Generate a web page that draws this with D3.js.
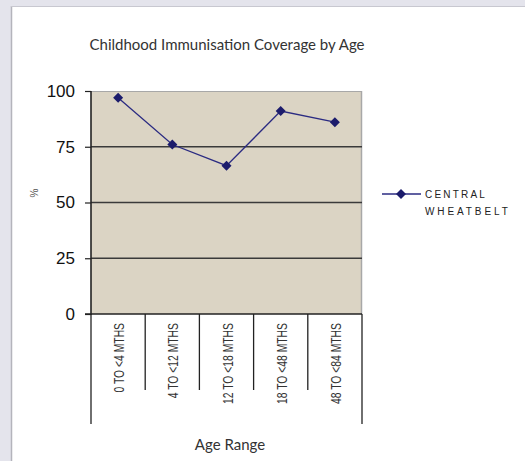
<!DOCTYPE html>
<html><head><meta charset="utf-8">
<script src="https://cdn.jsdelivr.net/npm/d3@7"></script>
<style>
html,body{margin:0;padding:0;background:#e4e4ec;}
svg{display:block;}
</style></head>
<body>
<svg id="chart" width="525" height="461"></svg>
<script>
const categories = ["0 TO <4 MTHS","4 TO <12 MTHS","12 TO <18 MTHS","18 TO <48 MTHS","48 TO <84 MTHS"];
const seriesName = "CENTRAL WHEATBELT";
const values = [97, 76, 66.5, 91, 86];
const yTicks = [0, 25, 50, 75, 100];
const title = "Childhood Immunisation Coverage by Age";
const xTitle = "Age Range";
const yTitle = "%";

const svg = d3.select("#chart");
// page panel
svg.append("rect").attr("x",11).attr("y",6).attr("width",514).attr("height",455).attr("fill","#fff");
svg.append("line").attr("x1",11.5).attr("x2",11.5).attr("y1",6).attr("y2",461).attr("stroke","#b4b4bc").attr("stroke-width",1.5);
svg.append("line").attr("x1",11).attr("x2",525).attr("y1",6.5).attr("y2",6.5).attr("stroke","#c8c8d0").attr("stroke-width",1);

const L=91, R=362, T=91, B=314;
const x = d3.scaleBand().domain(categories).range([L,R]).padding(0);
const y = d3.scaleLinear().domain([0,100]).range([B,T]);

// plot area
svg.append("rect").attr("x",L).attr("y",T).attr("width",R-L).attr("height",B-T).attr("fill","#dbd4c4");
svg.append("line").attr("x1",L).attr("x2",R).attr("y1",T+0.5).attr("y2",T+0.5).attr("stroke","#a8a8a8").attr("stroke-width",1);
svg.append("line").attr("x1",R-0.5).attr("x2",R-0.5).attr("y1",T).attr("y2",B).attr("stroke","#a8a8a8").attr("stroke-width",1.5);

// gridlines
svg.append("g").selectAll("line").data(yTicks.filter(d=>d>0&&d<100)).join("line")
  .attr("x1",L).attr("x2",R).attr("y1",d=>y(d)).attr("y2",d=>y(d))
  .attr("stroke","#3a3a3a").attr("stroke-width",1.6);

// y axis
const yAxis = svg.append("g").attr("transform",`translate(${L},0)`)
  .call(d3.axisLeft(y).tickValues(yTicks).tickSize(6).tickPadding(10));
yAxis.select(".domain").remove();
yAxis.selectAll(".tick line").attr("stroke","#222").attr("stroke-width",1.2);
yAxis.selectAll(".tick text").attr("font-family","'Liberation Sans', Arial, sans-serif").attr("font-size",17).attr("fill","#111");
svg.append("line").attr("x1",L).attr("x2",L).attr("y1",T).attr("y2",B+1).attr("stroke","#222").attr("stroke-width",1.6);
svg.append("line").attr("x1",L-6).attr("x2",R).attr("y1",B).attr("y2",B).attr("stroke","#222").attr("stroke-width",1.6);

// category dividers
const bounds = categories.map(c=>x(c)).concat([R]);
svg.append("g").selectAll("line").data(bounds).join("line")
  .attr("x1",d=>d).attr("x2",d=>d).attr("y1",B)
  .attr("y2",(d,i)=> (i===0||i===bounds.length-1) ? 424 : 390)
  .attr("stroke","#222").attr("stroke-width",1.3);

// category labels (condensed along the text direction)
svg.append("g").selectAll("text").data(categories).join("text")
  .attr("transform",d=>`translate(${x(d)+x.bandwidth()/2+6},323) rotate(-90) scale(0.74,1)`)
  .attr("text-anchor","end")
  .attr("font-family","'Liberation Sans', Arial, sans-serif")
  .attr("font-size",14).attr("fill","#333")
  .text(d=>d);

// line + markers
const line = d3.line().x((d,i)=>x(categories[i])+x.bandwidth()/2).y(d=>y(d));
svg.append("path").datum(values).attr("d",line).attr("fill","none").attr("stroke","#2b2b82").attr("stroke-width",1.3);
const marker = d3.symbol().type(d3.symbolSquare).size(50)();
svg.append("g").selectAll("path").data(values).join("path")
  .attr("transform",(d,i)=>`translate(${x(categories[i])+x.bandwidth()/2},${y(d)}) rotate(45)`)
  .attr("d",marker)
  .attr("fill","#1c1c6c");

// titles
svg.append("text").attr("x",227).attr("y",50).attr("text-anchor","middle")
  .attr("font-family","Lato, 'Noto Sans', sans-serif").attr("font-size",15).attr("fill","#333").text(title);
svg.append("text").attr("x",230).attr("y",450).attr("text-anchor","middle")
  .attr("font-family","Lato, 'Noto Sans', sans-serif").attr("font-size",15).attr("fill","#333").text(xTitle);
svg.append("text").attr("transform","translate(38,193) rotate(-90)").attr("text-anchor","middle")
  .attr("font-family","'Liberation Sans', sans-serif").attr("font-size",10).attr("fill","#555").text(yTitle);

// legend
const lg = svg.append("g");
lg.append("line").attr("x1",382).attr("x2",421).attr("y1",194).attr("y2",194).attr("stroke","#2b2b82").attr("stroke-width",1.3);
lg.append("path").attr("transform","translate(401,194) rotate(45)").attr("d",marker).attr("fill","#1c1c6c");
const words = seriesName.split(" ");
lg.selectAll("text").data(words).join("text")
  .attr("x",425).attr("y",(d,i)=>198+i*17)
  .attr("font-family","'Liberation Sans', Arial, sans-serif").attr("font-size",10).attr("letter-spacing",(d,i)=>i===0?2.2:2.9).attr("fill","#222")
  .text(d=>d);
</script>
</body></html>
